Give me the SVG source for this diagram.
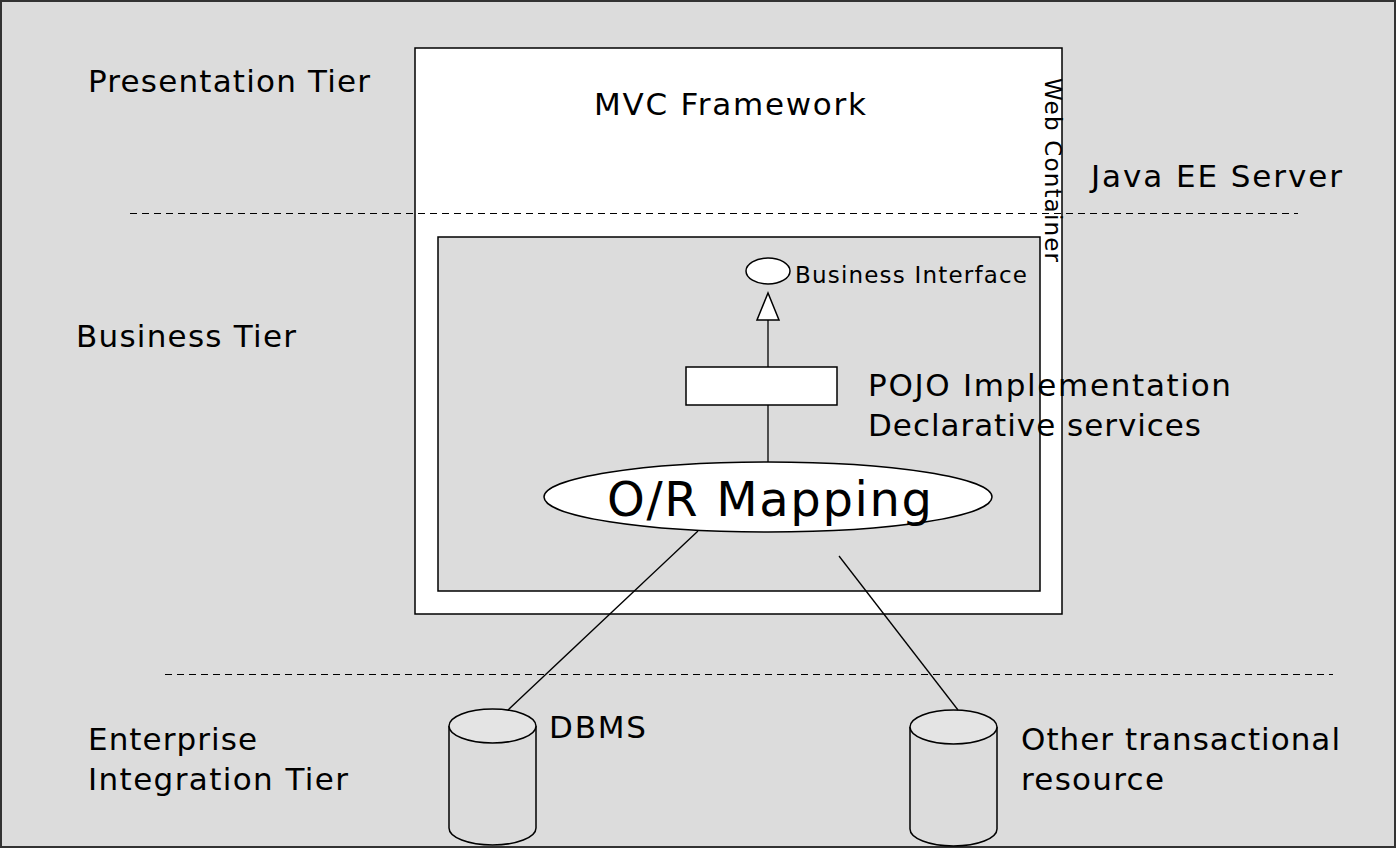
<svg xmlns="http://www.w3.org/2000/svg" width="1396" height="848" viewBox="0 0 1396 848">
<style>
text{font-family:"DejaVu Sans","Verdana",sans-serif;fill:#000}
.t{font-size:31px}
.s{font-size:23px}
.ln{stroke:#000;stroke-width:1.3;fill:none}
.dash{stroke:#000;stroke-width:1;stroke-dasharray:7,5;fill:none}
.shape{stroke:#000;stroke-width:1.5}
</style>
<rect x="1" y="1" width="1394" height="846" fill="#dcdcdc" stroke="#333" stroke-width="2"/>
<g id="web-container">
<rect x="415" y="48" width="647" height="566" fill="#fff" class="shape"/>
<text class="s" transform="translate(1045,78) rotate(90)" textLength="184" lengthAdjust="spacing">Web Container</text>
</g>
<g id="business-container">
<rect x="438" y="237" width="602" height="354" fill="#dcdcdc" class="shape"/>
</g>
<g id="tier-lines">
<line x1="130" y1="213.5" x2="1298" y2="213.5" class="dash"/>
<line x1="165" y1="674.5" x2="1333" y2="674.5" class="dash"/>
</g>
<g id="labels">
<text class="t" x="88" y="92" textLength="282" lengthAdjust="spacing">Presentation Tier</text>
<text class="t" x="594" y="115" textLength="272" lengthAdjust="spacing">MVC Framework</text>
<text class="t" x="1091" y="187" textLength="251" lengthAdjust="spacing">Java EE Server</text>
<text class="t" x="76" y="347" textLength="220" lengthAdjust="spacing">Business Tier</text>
<text class="t" x="868" y="396" textLength="363" lengthAdjust="spacing">POJO Implementation</text>
<text class="t" x="868" y="436" textLength="333" lengthAdjust="spacing">Declarative services</text>
<text class="t" x="88" y="750" textLength="169" lengthAdjust="spacing">Enterprise</text>
<text class="t" x="88" y="790" textLength="260" lengthAdjust="spacing">Integration Tier</text>
<text class="t" x="549" y="738" textLength="97" lengthAdjust="spacing">DBMS</text>
<text class="t" x="1021" y="750" textLength="319" lengthAdjust="spacing">Other transactional</text>
<text class="t" x="1021" y="790" textLength="143" lengthAdjust="spacing">resource</text>
</g>
<g id="business-interface">
<ellipse cx="768" cy="271" rx="22" ry="13" fill="#fff" class="shape"/>
<text class="s" x="795" y="283" textLength="232" lengthAdjust="spacing">Business Interface</text>
</g>
<g id="pojo">
<rect x="686" y="367" width="151" height="38" fill="#fff" class="shape"/>
</g>
<g id="or-mapping">
<ellipse cx="768" cy="497" rx="224" ry="35" fill="#fff" class="shape"/>
<text x="607" y="516" style="font-size:48px" textLength="325" lengthAdjust="spacing">O/R Mapping</text>
</g>
<g id="dbms">
<path d="M449,726 L449,828 A43.5,17 0 0 0 536,828 L536,726" fill="#dcdcdc" class="shape"/>
<ellipse cx="492.5" cy="726" rx="43.5" ry="17" fill="#e4e4e4" class="shape"/>
</g>
<g id="other-resource">
<path d="M910,727 L910,829 A43.5,17 0 0 0 997,829 L997,727" fill="#dcdcdc" class="shape"/>
<ellipse cx="953.5" cy="727" rx="43.5" ry="17" fill="#e4e4e4" class="shape"/>
</g>
<g id="connectors">
<line x1="768" y1="320" x2="768" y2="367" class="ln"/>
<polygon points="768,293 757,320 779,320" fill="#fff" class="shape"/>
<line x1="768" y1="405" x2="768" y2="462" class="ln"/>
<line x1="698" y1="531" x2="508" y2="710" class="ln"/>
<line x1="839" y1="556" x2="958" y2="710" class="ln"/>
</g>
</svg>
